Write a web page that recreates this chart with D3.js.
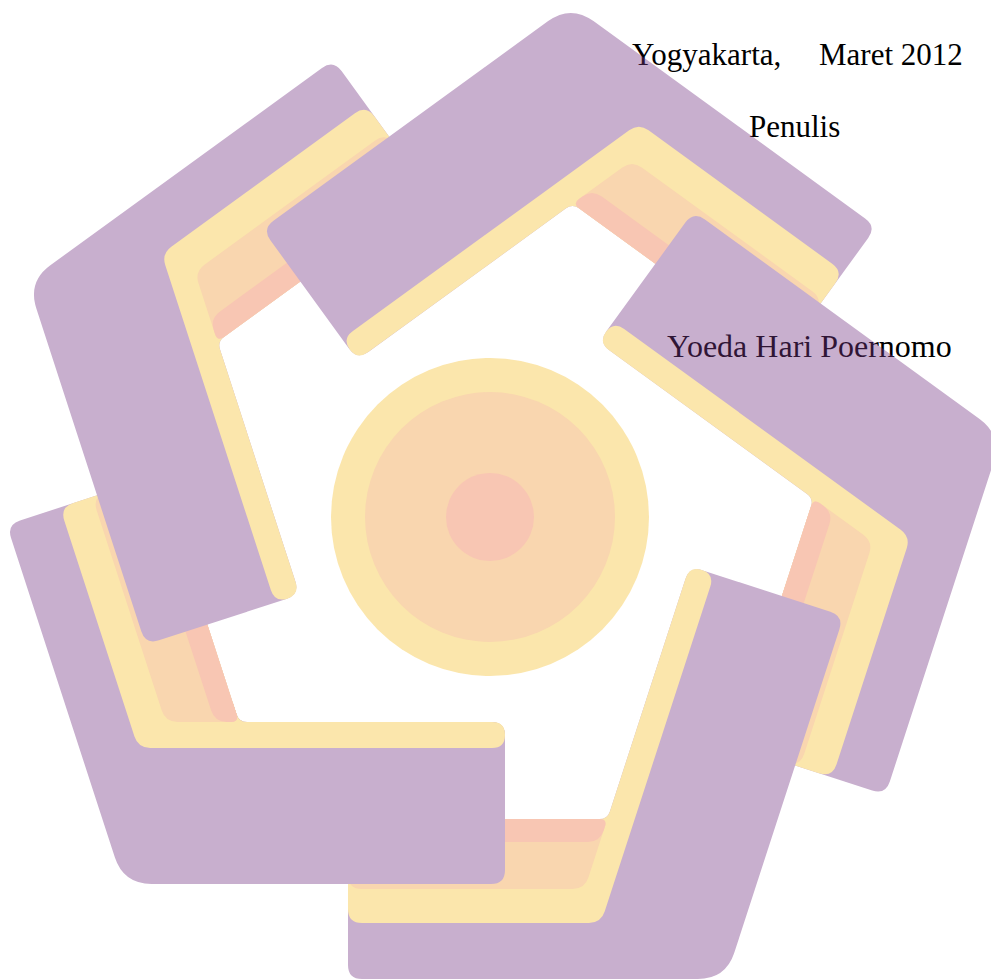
<!DOCTYPE html>
<html>
<head>
<meta charset="UTF-8">
<title>Penulis</title>
<script src="https://d3js.org/d3.v7.min.js"></script>
<style>
    body { margin: 0; background: #fff; }
    svg { display: block; }
    .txt { font-family: "Liberation Serif", "Times New Roman", serif; font-size: 31px; fill: #000; }
    .txt.name { font-size: 32px; }
</style>
</head>
<body>
<svg id="chart"></svg>
<script>
const width = 991;
const height = 980;

// one arm of the pentagon swirl, bands listed outermost first
const bandNames     = ["purple", "yellow", "orange", "salmon"];
const overLegOuter  = [367, 231, 205, 205];   // distance from centre, short leg lying on top
const underLegOuter = [462, 406, 372, 325];   // distance from centre, long leg lying below
const legInner      = [205, 302];             // inner edge of the two legs
const legEnds       = [15, 142];              // where each leg stops along its side
const armAngles     = [0, 72, 144, 216, 288];

// centre disc
const ringNames = ["yellow", "orange", "salmon"];
const ringRadii = [159, 125, 44];

const textLines = ["Yogyakarta,", "Maret 2012", "Penulis", "Yoeda Hari Poernomo"];

// ---- layout / style ----
const cx = 490, cy = 517;
const textPos = [[632, 65], [819, 65], [749, 137], [667, 357]];
// colours before the 0.4 watermark opacity is applied
const color = d3.scaleOrdinal()
    .domain(["purple", "yellow", "orange", "salmon"])
    .range(["rgb(118,55,133)", "rgb(245,192,48)", "rgb(240,152,55)", "rgb(238,112,65)"]);

const svg = d3.select("#chart")
    .attr("width", width)
    .attr("height", height)
    .attr("viewBox", [0, 0, width, height]);

svg.append("rect").attr("width", width).attr("height", height).attr("fill", "#fff");

svg.append("g")
    .selectAll("text")
    .data(textLines)
    .join("text")
    .attr("class", (d, i) => i === 3 ? "txt name" : "txt")
    .attr("x", (d, i) => textPos[i][0])
    .attr("y", (d, i) => textPos[i][1])
    .text(d => d);

// normal and tangent of the side holding the long leg (bottom side normal is +y)
const rad = Math.PI / 180;
const nrm = [Math.cos(162 * rad), Math.sin(162 * rad)];
const tan = [Math.cos(252 * rad), Math.sin(252 * rad)];

const cornerX = (b, l) => (l - nrm[1] * b) / nrm[0];
const onSide = (l, t) => [l * nrm[0] + t * tan[0], l * nrm[1] + t * tan[1]];

function roundPath(pts, radii) {
    const n = pts.length;
    const p = d3.path();
    for (let i = 0; i < n; i++) {
        const p0 = pts[(i - 1 + n) % n], p1 = pts[i], p2 = pts[(i + 1) % n];
        const d1 = Math.hypot(p0[0] - p1[0], p0[1] - p1[1]);
        const d2 = Math.hypot(p2[0] - p1[0], p2[1] - p1[1]);
        const r = Math.min(radii[i], d1 / 2, d2 / 2);
        const a = [p1[0] + (p0[0] - p1[0]) * r / d1, p1[1] + (p0[1] - p1[1]) * r / d1];
        const b = [p1[0] + (p2[0] - p1[0]) * r / d2, p1[1] + (p2[1] - p1[1]) * r / d2];
        if (i === 0) p.moveTo(a[0], a[1]); else p.lineTo(a[0], a[1]);
        p.quadraticCurveTo(p1[0], p1[1], b[0], b[1]);
    }
    p.closePath();
    return p.toString();
}

function bandPath(i) {
    const bo = overLegOuter[i], lo = underLegOuter[i];
    const bi = legInner[0], li = legInner[1];
    let pts = [
        [legEnds[0], bo],
        [cornerX(bo, lo), bo],
        onSide(lo, legEnds[1]),
        onSide(li, legEnds[1]),
        [cornerX(bi, li), bi],
        [legEnds[0], bi]
    ];
    let radii = [14, i === 0 ? 28 : 12, 14, 14, 8, 14];
    if (bo === bi) {
        pts = pts.slice(1, 5);
        radii = radii.slice(1, 5);
    }
    return roundPath(pts, radii);
}

const logo = svg.append("g")
    .attr("opacity", 0.4)
    .attr("transform", `translate(${cx},${cy})`);

function drawArm(parent, angle) {
    parent.append("g")
        .attr("transform", `rotate(${angle})`)
        .selectAll("path")
        .data(bandNames)
        .join("path")
        .attr("d", (d, i) => bandPath(i))
        .attr("fill", d => color(d));
}

armAngles.forEach(a => drawArm(logo, a));

// the first arm's short leg lies over the last arm: draw it again, clipped
svg.append("defs").append("clipPath")
    .attr("id", "firstLeg")
    .append("rect")
    .attr("x", -260).attr("y", 185)
    .attr("width", 300).attr("height", 200);

drawArm(logo.append("g").attr("clip-path", "url(#firstLeg)"), armAngles[0]);

logo.append("g")
    .selectAll("circle")
    .data(ringRadii)
    .join("circle")
    .attr("r", d => d)
    .attr("fill", (d, i) => color(ringNames[i]));
</script>
</body>
</html>
